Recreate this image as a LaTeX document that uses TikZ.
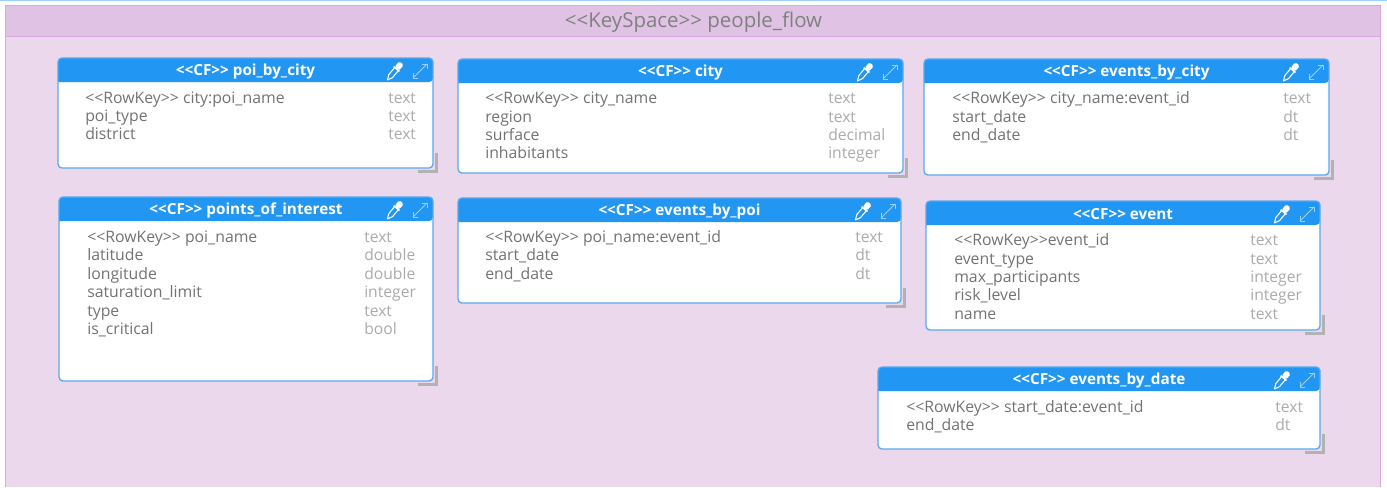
\documentclass[tikz,border=0pt]{standalone}
\usepackage{fontspec}
\setmainfont{Open Sans}
\definecolor{cfblue}{HTML}{2196F3}
\definecolor{cfedge}{HTML}{5AA9EC}
\definecolor{spacebody}{HTML}{EBD8EC}
\definecolor{spacehead}{HTML}{E0C3E4}
\definecolor{spaceedge}{HTML}{D8A8DE}
\tikzset{
    field/.style={anchor=base west,inner sep=0pt,text=black!55,font=\fontsize{11.85}{13}\selectfont},
    kind/.style={anchor=base west,inner sep=0pt,text=black!33,font=\fontsize{11.75}{13}\selectfont},
    title/.style={anchor=center,inner sep=0pt,text=white,font=\fontsize{11.45}{13}\selectfont\bfseries},
}
% one column family box, corners in pixels: left, top, right, bottom, title
\newcommand{\cfbox}[6]{
    \draw[black!30,line width=2.25pt] (#4-15,#5+3.5) -- (#4+3.5,#5+3.5) -- (#4+3.5,#5-15);
    \fill[white] (#2,#3) [rounded corners=3pt] rectangle (#4,#5);
    \fill[cfblue,rounded corners=3pt] (#2,#3+24) -- (#2,#3) -- (#4,#3) -- (#4,#3+24) [sharp corners] -- cycle;
    \draw[cfedge,line width=1pt,rounded corners=3pt] (#2,#3) rectangle (#4,#5);
    \node[title] (#1) at ({(#2+#4)/2},#3+13.5) {#6};
    % pipette
    \begin{scope}[shift={(#4-38.5,#3+13.5)},white]
        \fill[rotate=-40,rounded corners=1.2pt] (-2.9,-11) rectangle (2.9,-3.5);
        \fill[rotate=-40] (-3.8,-4) rectangle (3.8,-2.4);
        \draw[rotate=-40,line width=0.8pt,line join=round] (-2.4,-2.6) -- (-2.4,6) -- (0,11) -- (2.4,6) -- (2.4,-2.6);
    \end{scope}
    % resize
    \begin{scope}[shift={(#4-13,#3+13)},white!55!cfblue,line width=0.6pt]
        \draw (-7,7) -- (7,-7);
        \draw (-7,2) -- (-7,7) -- (-2,7);
        \draw (2,-7) -- (7,-7) -- (7,-2);
    \end{scope}
}
\begin{document}
\begin{tikzpicture}[x=0.75pt,y=-0.75pt]
    \useasboundingbox (0,0) rectangle (1387,487);
    \fill[white] (0,0) rectangle (1387,487);
    \fill[spacebody] (5,5) rectangle (1381,487);
    \fill[spacehead] (5,5) rectangle (1381,36);
    \draw[spaceedge,line width=0.75pt] (5,36.5) -- (1381,36.5);
    \draw[spaceedge,line width=0.75pt] (5.5,487) -- (5.5,5) -- (1380.5,5) -- (1380.5,487);
    \draw[cfblue!45,line width=1pt] (0,0.5) -- (1387,0.5);
    \node[anchor=center,inner sep=0pt,text=black!50,font=\fontsize{15.35}{18}\selectfont] (keyspace) at (693.5,22) {<{}<KeySpace>{}> people\_flow};

    \cfbox{poibycity}{58}{58}{433}{168}{<{}<CF>{}> poi\_by\_city}
    \node[field] (a1) at (85,103) {<{}<RowKey>{}> city:poi\_name};
    \node[field] (a2) at (85,121) {poi\_type};
    \node[field] (a3) at (85,139) {district};
    \node[kind] (a4) at (388,103) {text};
    \node[kind] (a5) at (388,121) {text};
    \node[kind] (a6) at (388,139) {text};

    \cfbox{city}{458}{59}{903}{173}{<{}<CF>{}> city}
    \node[field] (b1) at (485,103) {<{}<RowKey>{}> city\_name};
    \node[field] (b2) at (485,122) {region};
    \node[field] (b3) at (485,140) {surface};
    \node[field] (b4) at (485,158) {inhabitants};
    \node[kind] (b5) at (828,103) {text};
    \node[kind] (b6) at (828,122) {text};
    \node[kind] (b7) at (828,140) {decimal};
    \node[kind] (b8) at (828,158) {integer};

    \cfbox{eventsbycity}{924}{59}{1329}{175}{<{}<CF>{}> events\_by\_city}
    \node[field] (c1) at (952,103) {<{}<RowKey>{}> city\_name:event\_id};
    \node[field] (c2) at (952,122) {start\_date};
    \node[field] (c3) at (952,140) {end\_date};
    \node[kind] (c4) at (1283,103) {text};
    \node[kind] (c5) at (1283,122) {dt};
    \node[kind] (c6) at (1283,140) {dt};

    \cfbox{points}{59}{197}{433}{381}{<{}<CF>{}> points\_of\_interest}
    \node[field] (d1) at (87,242) {<{}<RowKey>{}> poi\_name};
    \node[field] (d2) at (87,260) {latitude};
    \node[field] (d3) at (87,279) {longitude};
    \node[field] (d4) at (87,297) {saturation\_limit};
    \node[field] (d5) at (87,316) {type};
    \node[field] (d6) at (87,334) {is\_critical};
    \node[kind] (d7) at (364,242) {text};
    \node[kind] (d8) at (364,260) {double};
    \node[kind] (d9) at (364,279) {double};
    \node[kind] (d10) at (364,297) {integer};
    \node[kind] (d11) at (364,316) {text};
    \node[kind] (d12) at (364,334) {bool};

    \cfbox{eventsbypoi}{458}{198}{901}{303}{<{}<CF>{}> events\_by\_poi}
    \node[field] (e1) at (485,242) {<{}<RowKey>{}> poi\_name:event\_id};
    \node[field] (e2) at (485,260) {start\_date};
    \node[field] (e3) at (485,279) {end\_date};
    \node[kind] (e4) at (855,242) {text};
    \node[kind] (e5) at (855,260) {dt};
    \node[kind] (e6) at (855,279) {dt};

    \cfbox{event}{926}{201}{1320}{330}{<{}<CF>{}> event}
    \node[field] (f1) at (954,245) {<{}<RowKey>{}>event\_id};
    \node[field] (f2) at (954,264) {event\_type};
    \node[field] (f3) at (954,282) {max\_participants};
    \node[field] (f4) at (954,300) {risk\_level};
    \node[field] (f5) at (954,319) {name};
    \node[kind] (f6) at (1250,245) {text};
    \node[kind] (f7) at (1250,264) {text};
    \node[kind] (f8) at (1250,282) {integer};
    \node[kind] (f9) at (1250,300) {integer};
    \node[kind] (f10) at (1250,319) {text};

    \cfbox{eventsbydate}{878}{367}{1320}{449}{<{}<CF>{}> events\_by\_date}
    \node[field] (g1) at (906,412) {<{}<RowKey>{}> start\_date:event\_id};
    \node[field] (g2) at (906,430) {end\_date};
    \node[kind] (g3) at (1275,412) {text};
    \node[kind] (g4) at (1275,430) {dt};
\end{tikzpicture}
\end{document}
